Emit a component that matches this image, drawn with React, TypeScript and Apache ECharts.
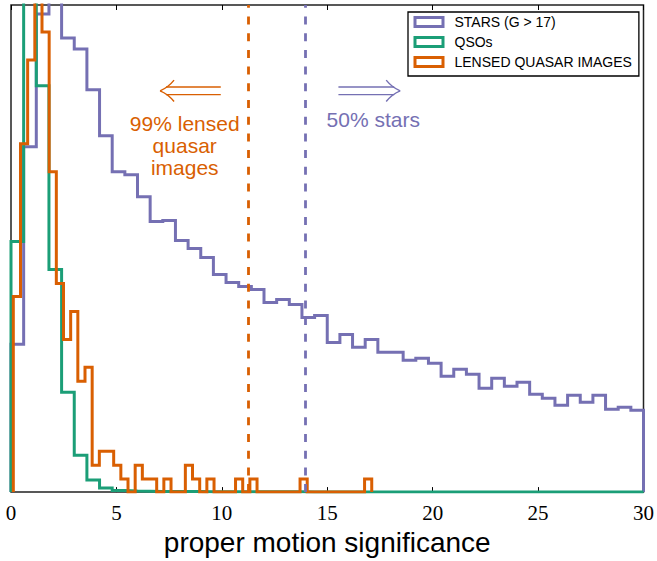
import { useEffect, useRef } from "react";
import * as echarts from "echarts";

// ---- data ----
const xTicks = [0, 5, 10, 15, 20, 25, 30];
const seriesNames = ["STARS (G > 17)", "QSOs", "LENSED QUASAR IMAGES"];
const seriesColors = ["#7570b3", "#1b9e77", "#d95f02"];

// histogram heights (arbitrary units, plot top = 488)
const starBinStart = 0;
const starBinWidth = 0.6;
const starHeights = [
  148, 346, 479, 520, 455, 444, 403, 357, 321, 318,
  296, 271, 272, 252, 244, 235, 218, 210, 206, 203,
  190, 193, 188, 175, 177, 150, 158, 145, 153, 140,
  140, 132, 134, 129, 116, 123, 118, 104, 114, 106,
  110, 98, 94, 87, 97, 90, 97, 83, 85, 82,
];

const qsoBinStart = 0;
const qsoBinWidth = 0.6;
const qsoHeights = [
  251, 560, 407, 223, 100, 37, 12, 4, 1.5, 1,
  0.8, 0.6, 0.6, 0.5, 0.5, 0.4, 0.4, 0.4, 0.3, 0.3,
  0.3, 0.3, 0.3, 0.2, 0.2, 0.2, 0.2, 0.2, 0.2, 0.2,
  0.2, 0.1, 0.1, 0.1, 0.1, 0.1, 0.1, 0.1, 0.1, 0.1,
  0.1, 0.1, 0.1, 0.1, 0.1, 0.1, 0.1, 0.1, 0.1, 0.1,
];

const lensBinStart = 0.11;
const lensBinWidth = 0.34;
const lensHeights = [
  196, 349, 433, 560, 461, 321, 209, 153, 181, 111,
  125, 27, 41, 41, 27, 13, 0, 27, 13, 13,
  0, 13, 0, 0, 27, 13, 0, 13, 0, 0,
  0, 13, 0, 13, 0, 0, 0, 0, 0, 0,
  13, 0, 0, 0, 0, 0, 0, 0, 0, 13,
];

const lensedCut = 11.25; // 99% of lensed quasar images below
const starsCut = 13.95; // 50% of stars above

// annotation anchors (data units)
const lensArrow = { tip: 7.07, tail: 9.95, y: 402 };
const starArrow = { tail: 15.53, tip: 18.46, y: 402 };
const lensLabel = { x: 8.24, lines: ["99% lensed", "quasar", "images"], ys: [369.6, 347.5, 325.7] };
const starLabel = { x: 17.18, text: "50% stars", y: 373 };

const yMax = 488;

function toSteps(start: number, width: number, heights: number[]) {
  const pts: number[][] = [[start, 0]];
  heights.forEach((h, i) => pts.push([start + i * width, h]));
  const end = start + heights.length * width;
  pts.push([end, heights[heights.length - 1]]);
  pts.push([end, 0]);
  return pts;
}

export default function App() {
  const ref = useRef<HTMLDivElement>(null);
  useEffect(() => {
    const chart = echarts.init(ref.current!, null, { renderer: "svg" });
    const stepSeries = (name: string, color: string, data: number[][], cut?: number) => ({
      type: "line",
      name,
      data,
      step: "end",
      symbol: "none",
      showSymbol: false,
      clip: true,
      silent: true,
      lineStyle: { color, width: 3, join: "miter", cap: "butt" },
      itemStyle: { color },
      markLine:
        cut === undefined
          ? undefined
          : {
              silent: true,
              symbol: ["none", "none"],
              label: { show: false },
              lineStyle: { type: [8, 8.7], width: 2.8, color },
              data: [{ xAxis: cut }],
            },
    });

    const option: any = {
      animation: false,
      backgroundColor: "#fff",
      grid: {
        left: 11,
        right: 13,
        top: 5,
        bottom: 68,
        show: true,
        borderColor: "#222",
        borderWidth: 1.5,
        backgroundColor: "transparent",
      },
      xAxis: [
        {
          type: "value",
          min: 0,
          max: 30,
          interval: 5,
          position: "bottom",
          axisLine: { show: false },
          splitLine: { show: false },
          axisTick: { show: true, inside: true, length: 5, lineStyle: { color: "#000", width: 1 } },
          axisLabel: {
            show: true,
            margin: 10,
            fontFamily: "Liberation Serif",
            fontSize: 21,
            color: "#000",
            formatter: (v: number) => (xTicks.includes(v) ? String(v) : ""),
          },
          name: "proper motion significance",
          nameLocation: "middle",
          nameGap: 32,
          nameTextStyle: { fontFamily: "Liberation Sans", fontSize: 28, color: "#000" },
        },
        {
          type: "value",
          min: 0,
          max: 30,
          interval: 5,
          position: "top",
          axisLine: { show: false },
          splitLine: { show: false },
          axisTick: { show: true, inside: true, length: 5, lineStyle: { color: "#000", width: 1 } },
          axisLabel: { show: false },
        },
      ],
      yAxis: {
        type: "value",
        min: 0,
        max: yMax,
        show: false,
      },
      legend: {
        orient: "vertical",
        left: 408,
        top: 12,
        padding: [3, 7, 7, 5.5],
        itemGap: 6,
        itemWidth: 28,
        itemHeight: 9,
        borderColor: "#000",
        borderWidth: 1.3,
        borderRadius: 0,
        backgroundColor: "#fff",
        selectedMode: false,
        textStyle: {
          fontFamily: "Liberation Sans",
          fontSize: 14,
          color: "#000",
          lineHeight: 14,
          padding: [0, 0, 0, 6.5],
        },
        data: seriesNames.map((n, i) => ({
          name: n,
          icon: "rect",
          itemStyle: { color: "rgba(0,0,0,0)", borderColor: seriesColors[i], borderWidth: 3 },
        })),
      },
      series: [
        stepSeries(seriesNames[0], seriesColors[0], toSteps(starBinStart, starBinWidth, starHeights), starsCut),
        stepSeries(seriesNames[1], seriesColors[1], toSteps(qsoBinStart, qsoBinWidth, qsoHeights)),
        stepSeries(seriesNames[2], seriesColors[2], toSteps(lensBinStart, lensBinWidth, lensHeights), lensedCut),
      ],
    };
    chart.setOption(option);

    const px = (x: number) => chart.convertToPixel({ xAxisIndex: 0 }, x) as number;
    const py = (y: number) => chart.convertToPixel({ yAxisIndex: 0 }, y) as number;

    const arrow = (tipX: number, tailX: number, y: number, color: string) => {
      const dir = tailX > tipX ? 1 : -1; // direction from tip to tail
      const shaftStart = tipX + dir * 6;
      const els: any[] = [];
      [-3.8, 3.8].forEach((dy) =>
        els.push({
          type: "line",
          silent: true,
          shape: { x1: shaftStart, y1: y + dy, x2: tailX, y2: y + dy },
          style: { stroke: color, lineWidth: 1.4 },
        })
      );
      [-10.7, 10.7].forEach((dy) =>
        els.push({
          type: "bezierCurve",
          silent: true,
          shape: {
            x1: tipX,
            y1: y,
            x2: tipX + dir * 14,
            y2: y + dy,
            cpx1: tipX + dir * 8,
            cpy1: y + dy * 0.3,
          },
          style: { stroke: color, lineWidth: 1.4, fill: null },
        })
      );
      return els;
    };

    const textEl = (x: number, y: number, text: string, color: string) => ({
      type: "text",
      silent: true,
      x,
      y,
      style: {
        text,
        fill: color,
        fontFamily: "Liberation Sans",
        fontSize: 21,
        align: "center",
        verticalAlign: "middle",
      },
    });

    const graphics: any[] = [
      ...arrow(px(lensArrow.tip), px(lensArrow.tail), py(lensArrow.y), seriesColors[2]),
      ...arrow(px(starArrow.tip), px(starArrow.tail), py(starArrow.y), seriesColors[0]),
      ...lensLabel.lines.map((t, i) => textEl(px(lensLabel.x), py(lensLabel.ys[i]), t, seriesColors[2])),
      textEl(px(starLabel.x), py(starLabel.y), starLabel.text, seriesColors[0]),
    ];
    chart.setOption({ graphic: graphics });

    return () => chart.dispose();
  }, []);
  return (
    <div
      ref={ref}
      style={{ position: "absolute", left: 0, top: 0, width: 657, height: 561 }}
    />
  );
}
